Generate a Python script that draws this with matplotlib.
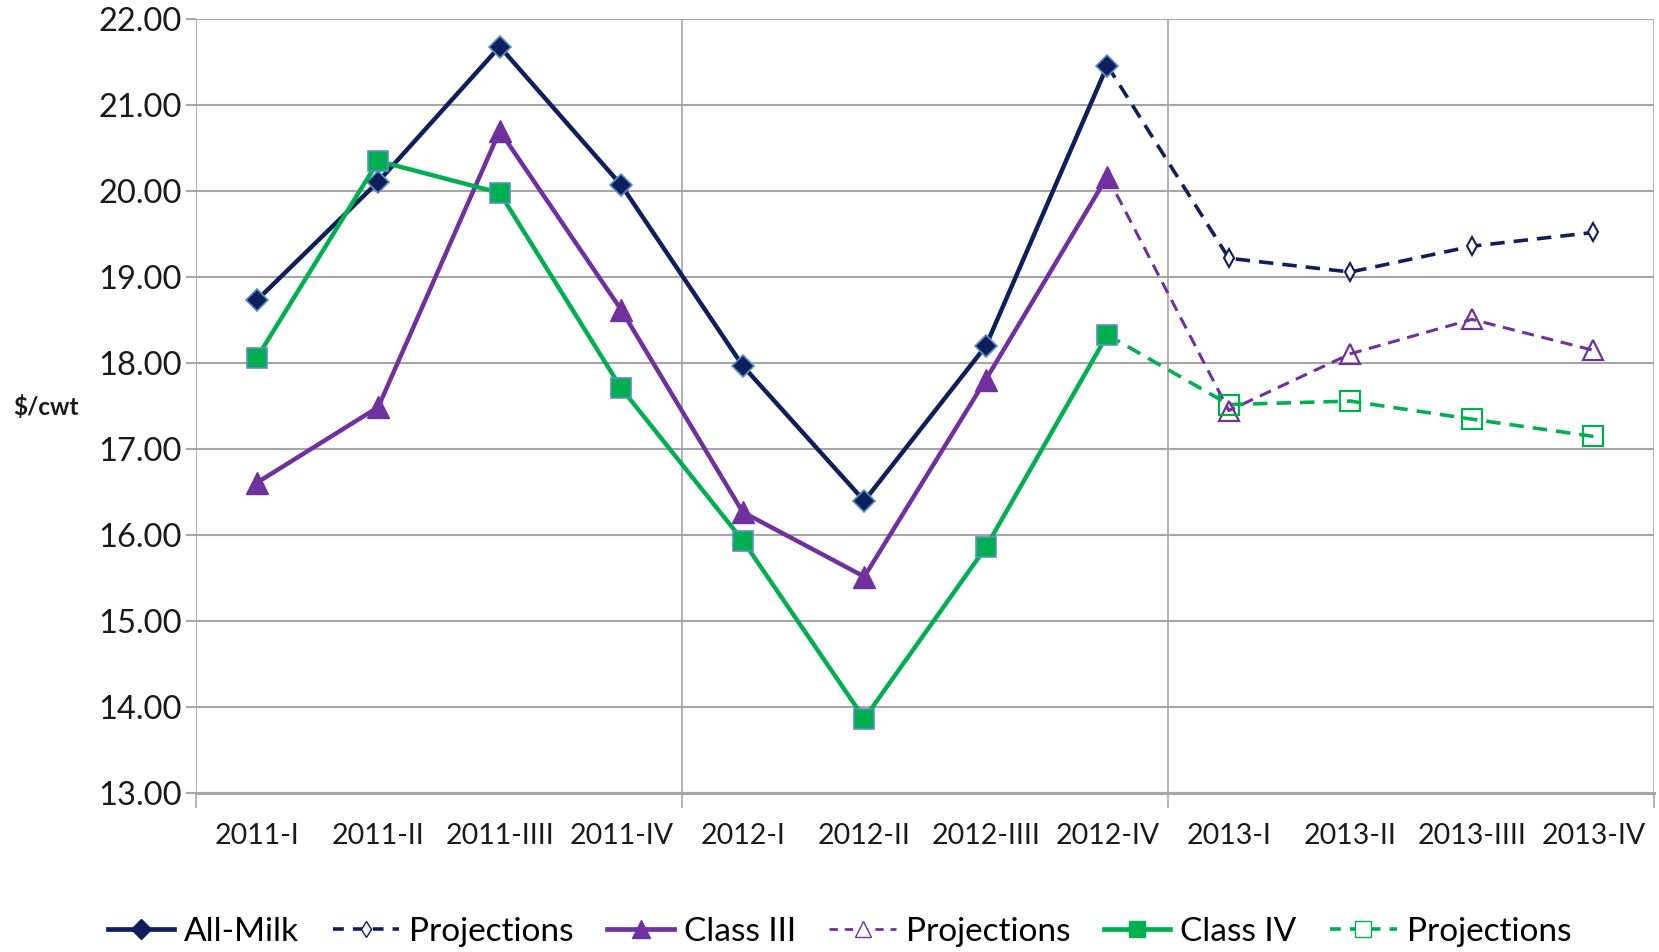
import matplotlib
matplotlib.use("Agg")
import matplotlib.pyplot as plt
from matplotlib.lines import Line2D

plt.rcParams['font.family'] = ['Lato', 'DejaVu Sans']

categories = ["2011-I", "2011-II", "2011-IIII", "2011-IV", "2012-I", "2012-II",
              "2012-IIII", "2012-IV", "2013-I", "2013-II", "2013-IIII", "2013-IV"]

all_milk = [18.73, 20.11, 21.68, 20.07, 17.97, 16.40, 18.20, 21.46]
all_milk_proj = [21.46, 19.22, 19.06, 19.36, 19.52]
class3 = [16.61, 17.49, 20.70, 18.62, 16.27, 15.52, 17.81, 20.17]
class3_proj = [20.17, 17.45, 18.11, 18.51, 18.15]
class4 = [18.06, 20.35, 19.98, 17.71, 15.94, 13.87, 15.86, 18.33]
class4_proj = [18.33, 17.52, 17.56, 17.35, 17.15]

yticks = [13, 14, 15, 16, 17, 18, 19, 20, 21, 22]

NAVY = '#0F1F5C'
PURPLE = '#7030A0'
GREEN = '#00B050'
EDGE = '#5B8FC7'
GRID = '#A6A6A6'
TXT = '#1a1a1a'

fig = plt.figure(figsize=(16.59, 9.52), dpi=100)
ax = fig.add_axes([0.1181, 0.1665, 0.879, 0.8135])

xs = [i + 0.5 for i in range(len(categories))]
xh = xs[:len(all_milk)]
xp = xs[len(all_milk) - 1:]

dash = (0, (4, 2.5))

ax.plot(xh, all_milk, color=NAVY, lw=3.2, marker='D', ms=11, mfc=NAVY, mec=EDGE, mew=1.2, zorder=5)
ax.plot(xp, all_milk_proj, color=NAVY, lw=2.6, ls=dash, zorder=4)
ax.plot(xp[1:], all_milk_proj[1:], ls='none', marker='d', ms=9, mfc='white', mec=NAVY, mew=1.5, zorder=6)

ax.plot(xh, class3, color=PURPLE, lw=3.2, marker='^', ms=16, mfc=PURPLE, mec=PURPLE, zorder=5)
ax.plot(xp, class3_proj, color=PURPLE, lw=2.2, ls=dash, zorder=4)
ax.plot(xp[1:], class3_proj[1:], ls='none', marker='^', ms=15, mfc='none', mec=PURPLE, mew=1.6, zorder=6)

ax.plot(xh, class4, color=GREEN, lw=3.2, marker='s', ms=14, mfc=GREEN, mec=EDGE, mew=1.2, zorder=5)
ax.plot(xp, class4_proj, color=GREEN, lw=2.6, ls=dash, zorder=4)
ax.plot(xp[1:], class4_proj[1:], ls='none', marker='s', ms=14, mfc='none', mec=GREEN, mew=1.6, zorder=6)

ax.set_xlim(0, len(categories))
ax.set_ylim(13, 22)
ax.set_yticks(yticks)
ax.set_yticklabels([f"{v:.2f}" for v in yticks])

ax.set_xticks([0, 4, 8, 12])
ax.set_xticklabels([])
ax.set_xticks(xs, minor=True)
ax.set_xticklabels(categories, minor=True)
ax.tick_params(axis='x', which='major', length=11, width=1.2, color=GRID, direction='out')
ax.tick_params(axis='x', which='minor', length=0, pad=21, labelsize=20.5, labelcolor=TXT)
ax.tick_params(axis='y', length=7, width=1.5, color=GRID, labelsize=23.5, pad=3, labelcolor=TXT)

ax.grid(True, axis='y', color=GRID, lw=1.5)
ax.grid(True, axis='x', which='major', color=GRID, lw=1.2)
ax.set_axisbelow(True)
for s in ['top', 'right', 'left']:
    ax.spines[s].set_visible(False)
ax.spines['bottom'].set_color(GRID)
ax.spines['bottom'].set_linewidth(2.2)

fig.text(0.028, 0.572, '\\$/cwt', fontsize=17.5, fontweight='bold', ha='center', va='center', color=TXT)

handles = [
    Line2D([], [], color=NAVY, lw=3.4, marker='D', ms=10, mfc=NAVY, mec=NAVY),
    Line2D([], [], color=NAVY, lw=2.6, ls=(0, (3, 2.5)), marker='d', ms=8, mfc='white', mec=NAVY),
    Line2D([], [], color=PURPLE, lw=3.4, marker='^', ms=13, mfc=PURPLE, mec=PURPLE),
    Line2D([], [], color=PURPLE, lw=2.0, ls=(0, (3, 2.5)), marker='^', ms=12, mfc='white', mec=PURPLE),
    Line2D([], [], color=GREEN, lw=3.4, marker='s', ms=12, mfc=GREEN, mec=GREEN),
    Line2D([], [], color=GREEN, lw=2.6, ls=(0, (3, 2.5)), marker='s', ms=12, mfc='white', mec=GREEN),
]
labels = ['All-Milk', 'Projections', 'Class III', 'Projections', 'Class IV', 'Projections']
fig.legend(handles, labels, loc='center', bbox_to_anchor=(0.506, 0.021), ncol=6, frameon=False,
           fontsize=24, handlelength=2.0, handletextpad=0.3, columnspacing=1.0)

fig.savefig('out.png', dpi=100)
